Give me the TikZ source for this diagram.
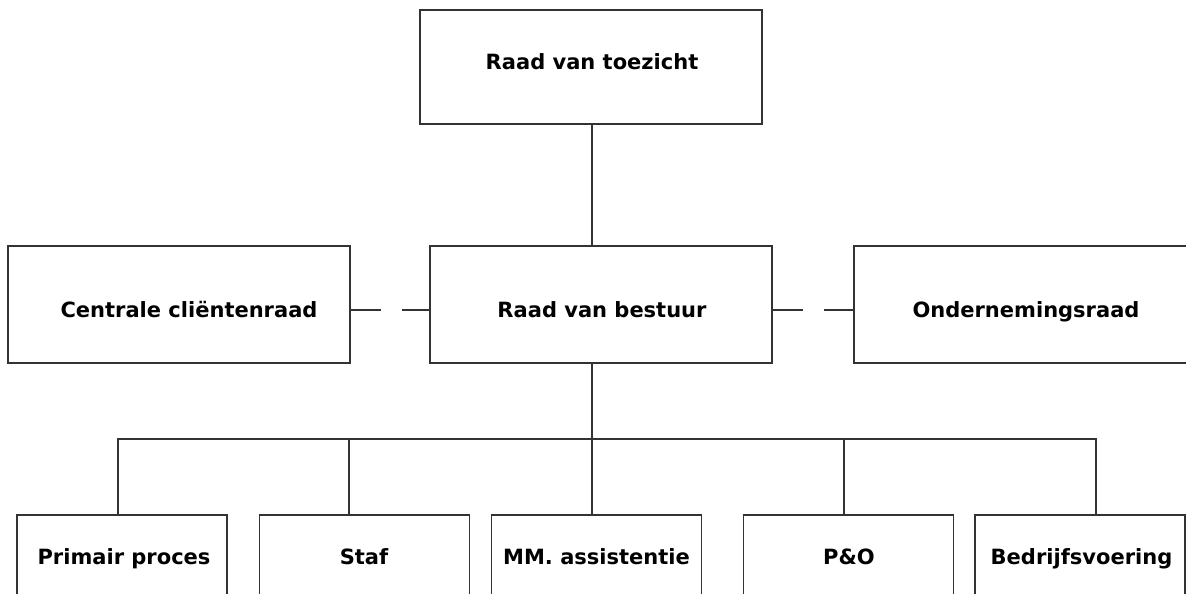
\documentclass[tikz,border=0pt]{standalone}
\usepackage{fontspec}
\setmainfont{DejaVu Sans}
\begin{document}
\begin{tikzpicture}[x=1pt,y=-1pt,
  box/.style={draw=black!80, line width=1.1pt, inner sep=0pt, minimum height=117pt},
  wbox/.style={box, minimum width=342pt},
  sbox/.style={box, minimum width=210pt},
  txt/.style={font=\bfseries\fontsize{21pt}{24pt}\selectfont, inner sep=0pt, text height=15.3pt, text depth=0pt},
  conn/.style={draw=black!80, line width=1.1pt},
  dconn/.style={conn, dash pattern=on 30pt off 21pt}]
\clip (0,0) rectangle (1186,594);
\fill[white] (0,0) rectangle (1186,594);
% boxes
\node[wbox, minimum height=114pt] (rvt) at (591,67) {};
\node[wbox] (ccr) at (179,304.5) {};
\node[wbox] (rvb) at (601,304.5) {};
\node[wbox] (or) at (1025,304.5) {};
\node[sbox] (pp) at (122,573.5) {};
\node[sbox] (staf) at (364.5,573.5) {};
\node[sbox] (mm) at (596.5,573.5) {};
\node[sbox] (po) at (848.5,573.5) {};
\node[sbox] (bv) at (1080,573.5) {};
% texts
\node[txt] (trvt) at (592,62) {Raad van toezicht};
\node[txt] (tccr) at (189,310) {Centrale cliëntenraad};
\node[txt] (trvb) at (602,310) {Raad van bestuur};
\node[txt] (tor) at (1026,310) {Ondernemingsraad};
\node[txt] (tpp) at (124,557) {Primair proces};
\node[txt] (tstaf) at (364,557) {Staf};
\node[txt] (tmm) at (596.5,557) {MM. assistentie};
\node[txt] (tpo) at (849,557) {P\&O};
\node[txt] (tbv) at (1081.5,557) {Bedrijfsvoering};
% connectors
\coordinate (spine) at (592,439);
\coordinate (j1) at (118,439);
\coordinate (j2) at (349,439);
\coordinate (j4) at (844,439);
\coordinate (j5) at (1096,439);
\draw[conn] (spine |- rvt.south) -- (spine |- rvb.north);
\draw[conn] (spine |- rvb.south) -- (spine |- mm.north);
\draw[conn] (j1 |- pp.north) -- (j1) -- (j5) -- (j5 |- bv.north);
\draw[conn] (j2) -- (j2 |- staf.north);
\draw[conn] (j4) -- (j4 |- po.north);
\draw[dconn] (ccr.east |- tccr) -- (rvb.west |- tccr);
\draw[dconn] (rvb.east |- trvb) -- (or.west |- trvb);
\end{tikzpicture}
\end{document}
